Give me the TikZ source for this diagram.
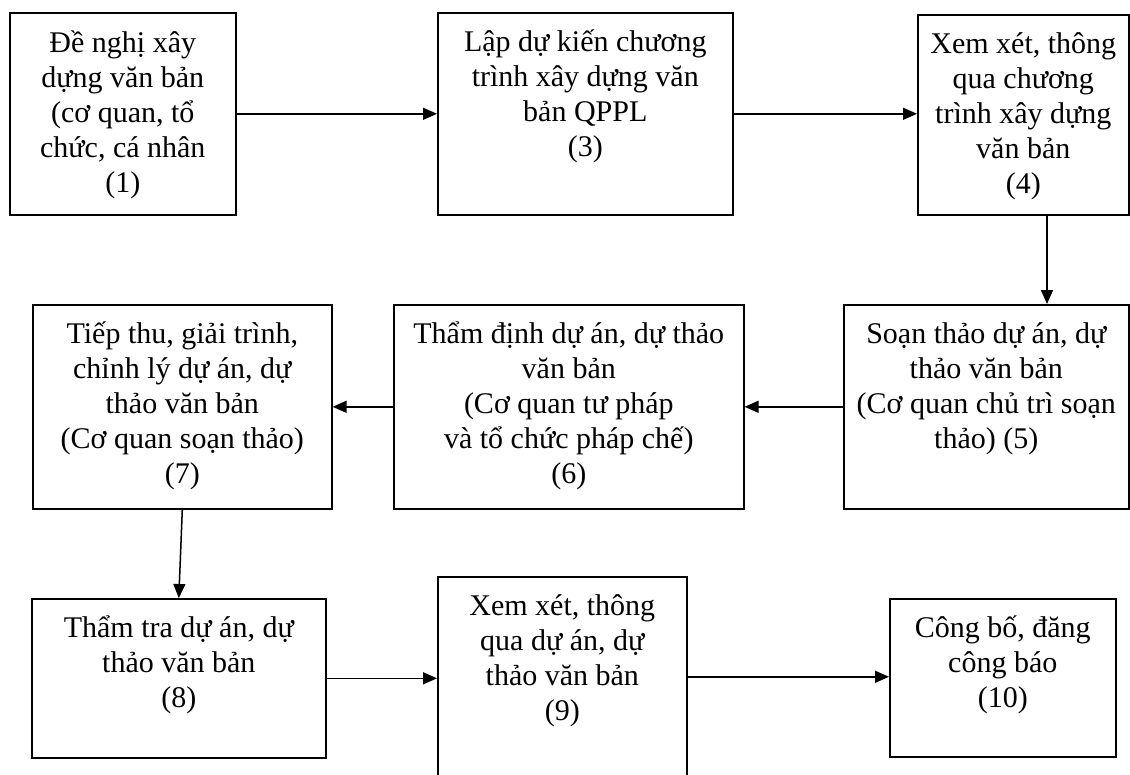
\documentclass[tikz,border=0pt]{standalone}
\usepackage{fontspec}
\setmainfont{Liberation Serif}
\usetikzlibrary{arrows.meta}
\tikzset{
  stepbox/.style={draw, line width=1.6pt, inner sep=0pt, anchor=north west},
  steptext/.style={anchor=north, align=center, inner sep=0pt, font=\fontsize{30}{35}\selectfont},
  flow/.style={line width=1.5pt, -{Triangle[length=14pt,width=12pt]}}
}
\newcommand{\fstrut}{\rule{0pt}{28pt}}
\begin{document}
\begin{tikzpicture}[x=1pt,y=-1pt]
\useasboundingbox (0,0) rectangle (1130,774);
% boxes
\node[stepbox, minimum width=226pt, minimum height=202pt] (b1) at (9,12) {};
\node[stepbox, minimum width=295pt, minimum height=202pt] (b3) at (437,12) {};
\node[stepbox, minimum width=211pt, minimum height=200pt] (b4) at (917,14) {};
\node[stepbox, minimum width=285pt, minimum height=204pt] (b5) at (843,304) {};
\node[stepbox, minimum width=350pt, minimum height=204pt] (b6) at (393,304) {};
\node[stepbox, minimum width=299pt, minimum height=204pt] (b7) at (32,304) {};
\node[stepbox, minimum width=294pt, minimum height=159pt] (b8) at (31,598) {};
\node[stepbox, minimum width=249pt, minimum height=200pt] (b9) at (437,576) {};
\node[stepbox, minimum width=226pt, minimum height=158pt] (b10) at (889,598) {};
% texts
\node[steptext] (t1) at ([yshift=-12pt]b1.north) {\fstrut Đề nghị xây\\dựng văn bản\\(cơ quan, tổ\\chức, cá nhân\\(1)};
\node[steptext] (t3) at ([yshift=-11pt]b3.north) {\fstrut Lập dự kiến chương\\trình xây dựng văn\\bản QPPL\\(3)};
\node[steptext] (t4) at ([yshift=-11pt]b4.north) {\fstrut Xem xét, thông\\qua chương\\trình xây dựng\\văn bản\\(4)};
\node[steptext] (t5) at ([yshift=-11pt]b5.north) {\fstrut Soạn thảo dự án, dự\\thảo văn bản\\(Cơ quan chủ trì soạn\\thảo) (5)};
\node[steptext] (t6) at ([yshift=-11pt]b6.north) {\fstrut Thẩm định dự án, dự thảo\\văn bản\\(Cơ quan tư pháp\\và tổ chức pháp chế)\\(6)};
\node[steptext] (t7) at ([yshift=-11pt]b7.north) {\fstrut Tiếp thu, giải trình,\\chỉnh lý dự án, dự\\thảo văn bản\\(Cơ quan soạn thảo)\\(7)};
\node[steptext] (t8) at ([yshift=-11pt]b8.north) {\fstrut Thẩm tra dự án, dự\\thảo văn bản\\(8)};
\node[steptext] (t9) at ([yshift=-11pt]b9.north) {\fstrut Xem xét, thông\\qua dự án, dự\\thảo văn bản\\(9)};
\node[steptext] (t10) at ([yshift=-11pt]b10.north) {\fstrut Công bố, đăng\\công báo\\(10)};
% connectors
\coordinate (k4) at (1047,0);
\draw[flow] (b1.east) -- (b1.east -| b3.west);
\draw[flow] (b3.east) -- (b3.east -| b4.west);
\draw[flow] (b4.south -| k4) -- (b5.north -| k4);
\draw[flow] (b5.west) -- (b5.west -| b6.east);
\draw[flow] (b6.west) -- (b6.west -| b7.east);
\draw[flow] (b7.south) -- (b8.north);
\draw[flow] (b8.east) -- (b8.east -| b9.west);
\draw[flow] (b9.east) -- (b9.east -| b10.west);
\end{tikzpicture}
\end{document}
